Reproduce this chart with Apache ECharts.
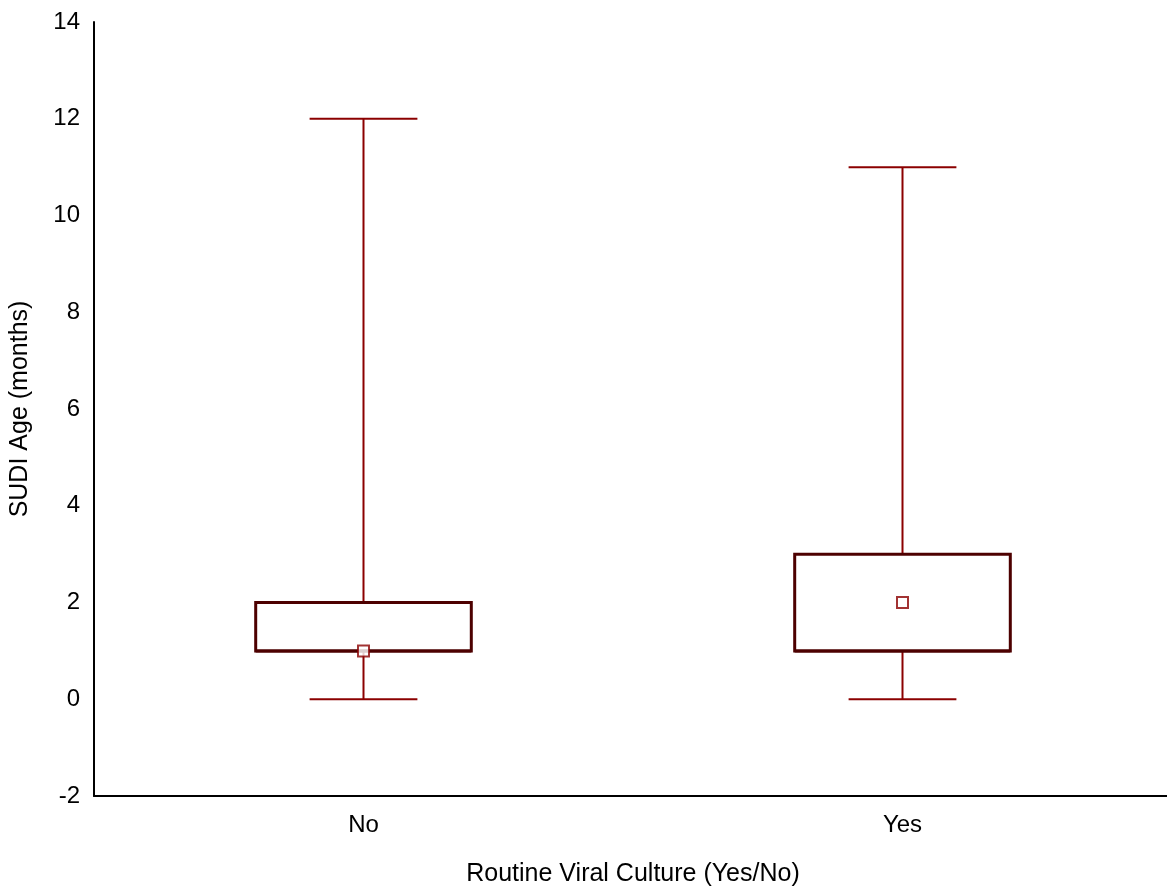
<!DOCTYPE html>
<html>
<head>
<meta charset="utf-8">
<script src="https://cdn.jsdelivr.net/npm/echarts@6/dist/echarts.min.js"></script>
<style>html,body{margin:0;padding:0;background:#fff}#c{width:1167px;height:886px}</style>
</head>
<body>
<div id="c"></div>
<script>
var categories = ['No', 'Yes'];
var whiskerLow = [0, 0];
var q1Values = [1, 1];
var medianValues = [1, 1];
var q3Values = [2, 3];
var whiskerHigh = [12, 11];
var meanValues = [1, 2];
var yTicks = { min: -2, max: 14, interval: 2 };

var boxData = categories.map(function (c, i) {
  return [i, whiskerLow[i], q1Values[i], medianValues[i], q3Values[i], whiskerHigh[i]];
});
var meanData = categories.map(function (c, i) { return [i, meanValues[i]]; });

var chart = echarts.init(document.getElementById('c'));
var fontFam = '"Liberation Sans", Arial, sans-serif';

function renderBox(params, api) {
  var x = api.value(0);
  var lo = api.coord([x, api.value(1)]);
  var q1 = api.coord([x, api.value(2)]);
  var med = api.coord([x, api.value(3)]);
  var q3 = api.coord([x, api.value(4)]);
  var hi = api.coord([x, api.value(5)]);
  var band = api.size([1, 0])[0];
  var bw = band * 0.4;
  var cw = band * 0.2;
  var cx = lo[0];
  var wStyle = { stroke: '#8b0000', lineWidth: 2, fill: null };
  var bStyle = { stroke: '#4d0000', lineWidth: 3, fill: '#fff' };
  return {
    type: 'group',
    children: [
      { type: 'line', shape: { x1: cx, y1: q3[1], x2: cx, y2: hi[1] }, style: wStyle },
      { type: 'line', shape: { x1: cx, y1: q1[1], x2: cx, y2: lo[1] }, style: wStyle },
      { type: 'line', shape: { x1: cx - cw / 2, y1: hi[1], x2: cx + cw / 2, y2: hi[1] }, style: wStyle },
      { type: 'line', shape: { x1: cx - cw / 2, y1: lo[1], x2: cx + cw / 2, y2: lo[1] }, style: wStyle },
      { type: 'rect', shape: { x: cx - bw / 2, y: q3[1], width: bw, height: q1[1] - q3[1] }, style: bStyle },
      { type: 'line', shape: { x1: cx - bw / 2, y1: med[1], x2: cx + bw / 2, y2: med[1] }, style: { stroke: '#4d0000', lineWidth: 3 } }
    ]
  };
}

chart.setOption({
  animation: false,
  backgroundColor: '#fff',
  grid: { left: 94, right: -5, top: 22, bottom: 90, containLabel: false, outerBoundsMode: 'none' },
  xAxis: {
    type: 'category',
    data: categories,
    name: 'Routine Viral Culture (Yes/No)',
    nameLocation: 'middle',
    nameGap: 66,
    nameTextStyle: { fontSize: 25, color: '#000', fontFamily: fontFam },
    axisLine: { onZero: false, lineStyle: { color: '#000', width: 2 } },
    axisTick: { show: false },
    axisLabel: { fontSize: 24, color: '#000', margin: 17, fontFamily: fontFam },
    splitLine: { show: false }
  },
  yAxis: {
    type: 'value',
    min: yTicks.min, max: yTicks.max, interval: yTicks.interval,
    name: 'SUDI Age (months)',
    nameLocation: 'middle',
    nameGap: 61,
    nameRotate: 90,
    nameTextStyle: { fontSize: 25, color: '#000', fontFamily: fontFam },
    axisLine: { show: true, onZero: false, lineStyle: { color: '#000', width: 2 } },
    axisTick: { show: false },
    axisLabel: { fontSize: 24, color: '#000', margin: 14, fontFamily: fontFam },
    splitLine: { show: false }
  },
  series: [
    {
      type: 'custom',
      renderItem: renderBox,
      encode: { x: 0, y: [1, 2, 3, 4, 5] },
      data: boxData,
      z: 2
    },
    {
      type: 'scatter',
      data: meanData,
      symbol: 'rect',
      symbolSize: 11,
      itemStyle: { color: '#fff', borderColor: '#8b0000', borderWidth: 2 },
      z: 5
    }
  ]
});
</script>
</body>
</html>
